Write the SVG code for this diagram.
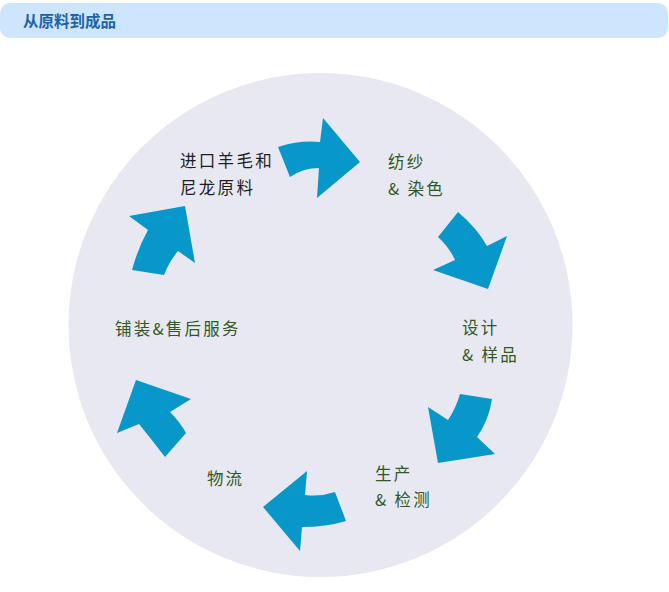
<svg xmlns="http://www.w3.org/2000/svg" width="669" height="592" viewBox="0 0 669 592">
<style>
.t{font-family:"Noto Sans CJK SC","Liberation Sans",sans-serif;font-size:16.5px;letter-spacing:2.3px}
.k{fill:#1e1e1e}
.g{fill:#2f5a1f}
.arr{fill:#0897c9}
</style>
<rect width="669" height="592" fill="#ffffff"/>
<g id="header">
<rect x="0" y="3" width="668" height="35" rx="10" fill="#cde6fd"/>
<text x="23" y="27" font-family="'Noto Sans CJK SC','Liberation Sans',sans-serif" font-size="15.5" font-weight="bold" fill="#1d62ae">从原料到成品</text>
</g>
<g id="circle">
<circle cx="320.5" cy="325" r="252" fill="#e8e8f2"/>
</g>
<g id="connectors">
<path class="arr" d="M278,147 Q300,140 320,142 L323,118 L360,162 L317,198 L319,168 Q303,168 290,177 Z"/>
<path class="arr" d="M458,212 Q477,228 487,246 L507,236 L488,289 L433,270 L455,260 Q449,247 438,237 Z"/>
<path class="arr" d="M460,394 L492,399 Q489,420 477,437 L495,454 L438,463 L428,407 L448,420 Q456,408 460,394 Z"/>
<path class="arr" d="M335,492 Q320,497 305,495 L307,471 L263,507 L300,551 L302,527 Q326,527 346,521 Z"/>
<path class="arr" d="M136,380 L191,399 L170,412 Q180,422 186,433 L165,457 Q152,440 139,424 L117,433 Z"/>
<path class="arr" d="M129,216 L185,206 L195,263 L178,251 Q169,262 164,275 L132,270 Q138,248 148,230 Z"/>
</g>
<g id="node-raw">
<text class="t k" x="180" y="167">进口羊毛和</text>
<text class="t k" x="180" y="194">尼龙原料</text>
</g>
<g id="node-spin">
<text class="t g" x="388" y="168">纺纱</text>
<text class="t g" x="388" y="195">&amp; 染色</text>
</g>
<g id="node-design">
<text class="t g" x="462" y="334">设计</text>
<text class="t g" x="462" y="361">&amp; 样品</text>
</g>
<g id="node-production">
<text class="t g" x="375" y="480">生产</text>
<text class="t g" x="375" y="506">&amp; 检测</text>
</g>
<g id="node-logistics">
<text class="t g" x="207" y="485" style="letter-spacing:2px">物流</text>
</g>
<g id="node-service">
<text class="t g" x="115" y="335" style="letter-spacing:2.2px">铺装&amp;售后服务</text>
</g>
</svg>
